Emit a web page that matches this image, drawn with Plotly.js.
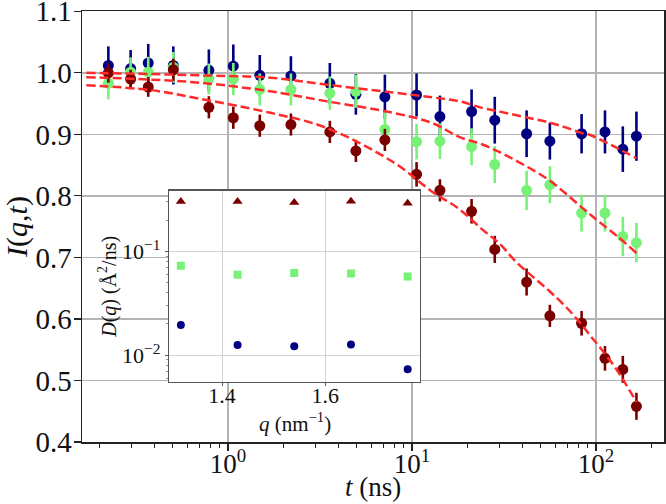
<!DOCTYPE html>
<html>
<head>
<meta charset="utf-8">
<script src="https://cdn.plot.ly/plotly-3.0.1.min.js"></script>
<style>
  html, body { margin: 0; padding: 0; background: #fff; }
  #myPlot { width: 666px; height: 504px; }
</style>
</head>
<body>
<div id="myPlot"></div>
<script>
// datos
const tiempos = [0.224, 0.296, 0.369, 0.505, 0.788, 1.07, 1.49, 2.20, 3.58, 4.96, 7.13,
                 10.6, 14.2, 21.1, 28.2, 42.0, 56.2, 83.6, 112, 140, 166];

const Iazul = [1.012, 1.007, 1.016, 1.012, 1.004, 1.011, 0.996, 0.995, 0.983, 0.965, 0.961,
               0.964, 0.929, 0.937, 0.923, 0.901, 0.889, 0.901, 0.904, 0.876, 0.897];
const errAzul = [0.031, 0.030, 0.031, 0.031, 0.034, 0.035, 0.033, 0.032, 0.033, 0.033, 0.036,
                 0.035, 0.034, 0.036, 0.038, 0.038, 0.030, 0.032, 0.035, 0.037, 0.040];

const Iverde = [0.983, 1.001, 1.001, 1.009, 0.990, 0.990, 0.973, 0.973, 0.967, 0.970, 0.908,
                0.888, 0.889, 0.880, 0.851, 0.809, 0.818, 0.772, 0.772, 0.734, 0.724];
const errVerde = [0.026, 0.024, 0.025, 0.025, 0.025, 0.026, 0.026, 0.026, 0.027, 0.027, 0.028,
                  0.029, 0.029, 0.030, 0.030, 0.032, 0.030, 0.030, 0.030, 0.032, 0.032];

const Irojo = [1.000, 0.990, 0.977, 1.005, 0.944, 0.927, 0.914, 0.916, 0.904, 0.873, 0.891,
               0.835, 0.809, 0.775, 0.713, 0.660, 0.605, 0.593, 0.536, 0.518, 0.458];
const errRojo = [0.016, 0.015, 0.016, 0.018, 0.018, 0.018, 0.018, 0.018, 0.018, 0.018, 0.018,
                 0.020, 0.018, 0.020, 0.022, 0.022, 0.018, 0.020, 0.020, 0.022, 0.022];

// curvas de ajuste (puntos leidos sobre las lineas discontinuas)
const tAjuste = [0.17, 0.38, 0.7, 1.7, 3.4, 7.9, 13, 18, 24, 30, 37, 46, 56, 69, 84, 93, 105, 130, 166];
const ajusteAzul = [1.000, 0.998, 0.996, 0.992, 0.981, 0.968, 0.960, 0.954, 0.943, 0.937, 0.931,
                    0.925, 0.919, 0.911, 0.902, 0.899, 0.892, 0.878, 0.861];
const ajusteVerde = [0.993, 0.989, 0.984, 0.970, 0.954, 0.935, 0.918, 0.896, 0.884, 0.871, 0.857,
                     0.841, 0.825, 0.803, 0.781, 0.770, 0.757, 0.735, 0.707];
const ajusteRojo = [0.980, 0.972, 0.958, 0.935, 0.911, 0.855, 0.806, 0.779, 0.746, 0.722, 0.692,
                    0.667, 0.645, 0.619, 0.590, 0.573, 0.554, 0.517, 0.465];

// recuadro: D(q)
const qVals = [1.32, 1.43, 1.54, 1.65, 1.76];
const Drojo = [0.303, 0.303, 0.296, 0.305, 0.292];
const Dverde = [0.073, 0.0597, 0.062, 0.0614, 0.0575];
const Dazul = [0.0195, 0.0125, 0.0122, 0.0127, 0.0073];

const yTicks = [0.4, 0.5, 0.6, 0.7, 0.8, 0.9, 1.0, 1.1];

const azul = '#000080';
const verde = '#77f277';
const rojo = '#7a0000';
const rojoAjuste = '#ff2a2a';
const fuente = 'Liberation Serif, Times New Roman, serif';

// ticks menores de los ejes log (2..9 en cada decada)
function menores(decadas) {
  let v = [];
  decadas.forEach(d => {
    for (let k = 2; k <= 9; k++) v.push(k * d);
  });
  return v;
}

function serie(y, err, color) {
  return {
    x: tiempos, y: y,
    mode: 'markers', type: 'scatter',
    marker: { color: color, size: 11, line: { width: 0 } },
    error_y: { type: 'data', array: err, visible: true, thickness: 2.6, width: 0, color: color },
    xaxis: 'x', yaxis: 'y', showlegend: false
  };
}

function ajuste(y) {
  return {
    x: tAjuste, y: y,
    mode: 'lines', type: 'scatter',
    line: { color: rojoAjuste, width: 2.5, dash: '9px,4px', shape: 'spline' },
    xaxis: 'x', yaxis: 'y', showlegend: false
  };
}

function puntosInset(y, color, simbolo, tam) {
  return {
    x: qVals, y: y,
    mode: 'markers', type: 'scatter',
    marker: { color: color, size: tam, symbol: simbolo, line: { width: 0 } },
    xaxis: 'x2', yaxis: 'y2', showlegend: false
  };
}

const data = [
  serie(Iazul, errAzul, azul),
  serie(Iverde, errVerde, verde),
  serie(Irojo, errRojo, rojo),
  ajuste(ajusteAzul),
  ajuste(ajusteVerde),
  ajuste(ajusteRojo),
  puntosInset(Drojo, rojo, 'triangle-up', 9),
  puntosInset(Dverde, verde, 'square', 8),
  puntosInset(Dazul, azul, 'circle', 8)
];

const layout = {
  width: 666, height: 504,
  margin: { l: 82, r: 2, t: 11, b: 62 },
  paper_bgcolor: '#fff',
  plot_bgcolor: '#fff',
  font: { family: fuente, color: '#111', size: 28 },
  xaxis: {
    type: 'log',
    range: [-0.793, 2.37],
    domain: [0, 1],
    tickvals: [1, 10, 100],
    ticktext: ['10<sup>0</sup>', '10<sup>1</sup>', '10<sup>2</sup>'],
    tickfont: { size: 27 },
    ticklabelstandoff: -10,
    ticks: 'outside', ticklen: 7, tickwidth: 1.2, tickcolor: '#222',
    minor: { tickmode: 'array', tickvals: menores([0.1, 1, 10, 100]), ticks: 'outside',
             ticklen: 4, tickwidth: 1, tickcolor: '#222', showgrid: false },
    showgrid: true, gridcolor: '#b4b4b4', gridwidth: 1.5,
    showline: true, linecolor: '#222', linewidth: 1.5, mirror: true,
    zeroline: false
  },
  yaxis: {
    range: [0.4, 1.1005],
    domain: [0, 1],
    tickvals: yTicks,
    tickformat: '.1f',
    tickfont: { size: 29 },
    ticklabelstandoff: -4,
    ticklabeloverflow: 'allow',
    ticks: 'outside', ticklen: 7, tickwidth: 1.2, tickcolor: '#222',
    showgrid: true, gridcolor: '#b4b4b4', gridwidth: 1.5,
    showline: true, linecolor: '#222', linewidth: 1.5, mirror: true,
    zeroline: false,
    title: { text: '<i>I</i>(<i>q</i>,<i>t</i>)', font: { size: 30 }, standoff: 0 }
  },
  xaxis2: {
    anchor: 'y2',
    domain: [0.1495, 0.5808],
    range: [1.297, 1.784],
    tickvals: [1.4, 1.6],
    tickformat: '.1f',
    tickfont: { size: 22 },
    ticklabelstandoff: -10,
    ticks: 'outside', ticklen: 3, tickwidth: 1, tickcolor: '#555',
    showgrid: true, gridcolor: '#d2d2d2', gridwidth: 1,
    showline: true, linecolor: '#555', linewidth: 1.2, mirror: true,
    zeroline: false
  },
  yaxis2: {
    anchor: 'x2',
    type: 'log',
    domain: [0.1389, 0.5833],
    range: [-2.26, -0.413],
    tickvals: [0.01, 0.1],
    ticktext: ['10<sup>−2</sup>', '10<sup>−1</sup>'],
    tickfont: { size: 22 },
    ticks: 'outside', ticklen: 3, tickwidth: 1, tickcolor: '#555',
    minor: { tickmode: 'array', tickvals: menores([0.001, 0.01, 0.1]), ticks: 'outside',
             ticklen: 2, tickwidth: 0.8, tickcolor: '#777', showgrid: false },
    showgrid: true, gridcolor: '#d2d2d2', gridwidth: 1,
    showline: true, linecolor: '#555', linewidth: 1.2, mirror: true,
    zeroline: false,
    title: { text: '<i>D</i>(<i>q</i>) (Å<sup>2</sup>/ns)', font: { size: 20 }, standoff: 0 }
  },
  annotations: [
    { text: '<i>t</i> (ns)', xref: 'paper', yref: 'paper', x: 0.5, y: 0,
      xanchor: 'center', yanchor: 'middle', yshift: -45, showarrow: false,
      font: { size: 27 } },
    { text: '<i>q</i> (nm<sup>−1</sup>)', xref: 'x2 domain', yref: 'y2 domain', x: 0.5, y: 0,
      xanchor: 'center', yanchor: 'middle', yshift: -40, showarrow: false,
      font: { size: 21 } }
  ]
};

Plotly.newPlot('myPlot', data, layout, { displayModeBar: false, staticPlot: true });
</script>
</body>
</html>
